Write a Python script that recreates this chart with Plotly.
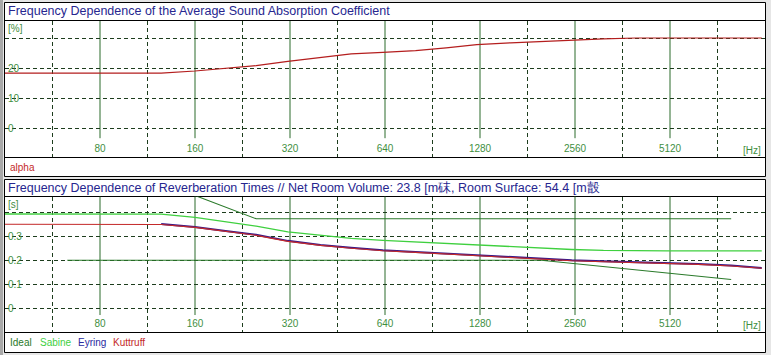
import math
import plotly.graph_objects as go

W, H = 771, 355

# ---------------- data ----------------
freq = [40, 50, 63, 80, 100, 125, 160, 200, 250, 315, 400, 500, 630, 800,
        1000, 1250, 1600, 2000, 2500, 3150, 4000, 5000, 6300, 8000, 10000]
alpha = [18.3, 18.3, 18.3, 18.3, 18.3, 18.3, 19.0, 19.8, 20.8, 22.2, 23.6, 24.7, 25.2, 25.8,
         26.7, 27.8, 28.4, 28.9, 29.3, 29.7, 30.0, 30.0, 30.0, 30.0, 30.0]
sabine = [0.393, 0.393, 0.393, 0.393, 0.393, 0.392, 0.379, 0.360, 0.342, 0.318, 0.303, 0.291, 0.283, 0.276,
          0.271, 0.265, 0.258, 0.252, 0.245, 0.241, 0.239, 0.239, 0.239, 0.239, 0.239]
kuttruff = [0.350, 0.350, 0.350, 0.350, 0.350, 0.349, 0.337, 0.321, 0.304, 0.279, 0.262, 0.250, 0.240, 0.233,
            0.226, 0.219, 0.211, 0.204, 0.198, 0.194, 0.190, 0.187, 0.183, 0.176, 0.167]
eyring_freq = [125, 160, 200, 250, 315, 400, 500, 630, 800, 1000, 1250, 1600, 2000, 2500,
               3150, 4000, 5000, 6300, 8000, 10000]
eyring = [0.351, 0.339, 0.322, 0.306, 0.281, 0.264, 0.252, 0.242, 0.235, 0.228, 0.221, 0.213, 0.206, 0.200,
          0.196, 0.192, 0.189, 0.185, 0.178, 0.168]
ideal_upper_freq = [160, 250, 8000]
ideal_upper = [0.47, 0.373, 0.373]
ideal_lower_freq = [63, 2000, 8000]
ideal_lower = [0.20, 0.20, 0.12]

octave_ticks = [80, 160, 320, 640, 1280, 2560, 5120]
octave_labels = ["80", "160", "320", "640", "1280", "2560", "5120"]
half_octaves = [56.57, 113.1, 226.3, 452.5, 905.1, 1810, 3620, 7241]
alpha_ticks = [0, 10, 20, 30]
alpha_labels = ["0", "10", "20", ""]
rt_ticks = [0, 0.1, 0.2, 0.3, 0.4]
rt_labels = ["0", "0.1", "0.2", "0.3", ""]

title1 = "Frequency Dependence of the Average Sound Absorption Coefficient"
title2 = ("Frequency Dependence of Reverberation Times // Net Room Volume: 23.8 [m"
          + b"\xb3]".decode("gbk") + ", Room Surface: 54.4 [m" + b"\xb2]".decode("gbk"))

# ---------------- styling ----------------
FONT = "Liberation Sans, Arial, sans-serif"
TITLE_C = "#26268f"
TICK_C = "#3f8f3f"
SOLID_C = "#2b6b2b"
DASH_C = "#1d3d1d"
DASH = "4px,3px"


def px(x):
    return x / W


def py(y):
    return 1 - y / H


fig = go.Figure()

# top panel
fig.add_trace(go.Scatter(x=freq, y=alpha, mode="lines", name="alpha",
                         line=dict(color="#b41e1e", width=1.2), xaxis="x", yaxis="y"))
# bottom panel
fig.add_trace(go.Scatter(x=ideal_upper_freq, y=ideal_upper, mode="lines", name="Ideal",
                         line=dict(color="#2a7a2a", width=1.1), xaxis="x2", yaxis="y2"))
fig.add_trace(go.Scatter(x=ideal_lower_freq, y=ideal_lower, mode="lines", name="Ideal",
                         line=dict(color="#2a7a2a", width=1.1), xaxis="x2", yaxis="y2"))
fig.add_trace(go.Scatter(x=freq, y=sabine, mode="lines", name="Sabine",
                         line=dict(color="#3fd03f", width=1.3), xaxis="x2", yaxis="y2"))
fig.add_trace(go.Scatter(x=eyring_freq, y=eyring, mode="lines", name="Eyring",
                         line=dict(color="#3a1a8a", width=2), xaxis="x2", yaxis="y2"))
fig.add_trace(go.Scatter(x=freq, y=kuttruff, mode="lines", name="Kuttruff",
                         line=dict(color="#c42a2a", width=1.1), xaxis="x2", yaxis="y2"))

shapes = []
# left window stripe
shapes.append(dict(type="rect", xref="paper", yref="paper", x0=0, x1=px(3), y0=0, y1=1,
                   fillcolor="#a8a8a8", line=dict(width=0), layer="below"))
# panel boxes
for top, tsep, lsep, bot in [(2.5, 20.5, 157.5, 176.5), (179.5, 196.5, 332.5, 352.5)]:
    shapes.append(dict(type="rect", xref="paper", yref="paper", x0=px(4.5), x1=px(765.5),
                       y0=py(bot), y1=py(top), fillcolor="white",
                       line=dict(color="black", width=1), layer="below"))
    for yy in (tsep, lsep):
        shapes.append(dict(type="line", xref="paper", yref="paper", x0=px(4.5), x1=px(765.5),
                           y0=py(yy), y1=py(yy), line=dict(color="black", width=1), layer="below"))

# solid octave lines (stop above the tick labels)
for f in octave_ticks:
    shapes.append(dict(type="line", xref="x", yref="y", x0=f, x1=f, y0=-3.4, y1=40,
                       line=dict(color=SOLID_C, width=1), layer="below"))
    shapes.append(dict(type="line", xref="x2", yref="y2", x0=f, x1=f, y0=-0.028, y1=0.5,
                       line=dict(color=SOLID_C, width=1), layer="below"))

xrange_ = [math.log10(40), math.log10(10240)]


def xaxis_cfg(anchor):
    return dict(type="log", range=xrange_, domain=[px(5), px(765)], anchor=anchor,
                tickmode="array", tickvals=octave_ticks, ticktext=octave_labels,
                ticklabelposition="inside", ticks="", showgrid=False, zeroline=False,
                showline=False, tickfont=dict(family=FONT, size=10, color=TICK_C),
                minor=dict(tickmode="array", tickvals=half_octaves, showgrid=True,
                           gridcolor=DASH_C, griddash=DASH, gridwidth=1, ticks=""),
                fixedrange=True)


def yaxis_cfg(anchor, dom, rng, tv, tt):
    return dict(domain=dom, range=rng, anchor=anchor, tickmode="array", tickvals=tv,
                ticktext=tt, ticklabelposition="inside", ticks="", showgrid=True,
                gridcolor=DASH_C, griddash=DASH, gridwidth=1, zeroline=False, showline=False,
                tickfont=dict(family=FONT, size=10, color=TICK_C), fixedrange=True)


annotations = []


def txt(x, y, s, color, size, xanchor="left"):
    annotations.append(dict(text=s, xref="paper", yref="paper", x=px(x), y=py(y),
                            xanchor=xanchor, yanchor="middle", showarrow=False,
                            font=dict(family=FONT, size=size, color=color)))


txt(6, 11.5, title1, TITLE_C, 12.5)
txt(6, 188, title2, TITLE_C, 12.5)
txt(6, 28, "[%]", TICK_C, 10)
txt(6, 204, "[s]", TICK_C, 10)
txt(763, 150, "[Hz]", TICK_C, 10, "right")
txt(763, 325, "[Hz]", TICK_C, 10, "right")
txt(8, 167, "alpha", "#c42a2a", 10)
txt(8, 342.5, "Ideal", "#2a7a2a", 10)
txt(38, 342.5, "Sabine", "#3fd03f", 10)
txt(76, 342.5, "Eyring", "#2a2aa0", 10)
txt(111, 342.5, "Kuttruff", "#c42a2a", 10)

fig.update_layout(
    width=W, height=H, margin=dict(l=0, r=0, t=0, b=0),
    paper_bgcolor="#e6e6e6", plot_bgcolor="rgba(0,0,0,0)",
    showlegend=False, shapes=shapes, annotations=annotations,
    xaxis=xaxis_cfg("y"),
    yaxis=yaxis_cfg("x", [py(157), py(21)], [(128 - 157) / 3, (128 - 21) / 3], alpha_ticks, alpha_labels),
    xaxis2=xaxis_cfg("y2"),
    yaxis2=yaxis_cfg("x2", [py(332), py(196.5)], [(308.3 - 332) / 240, (308.3 - 196.5) / 240],
                     rt_ticks, rt_labels),
)

fig.write_html("out.html", config={"displayModeBar": False},
               post_script="document.body.style.margin='0';document.body.style.overflow='hidden';")
